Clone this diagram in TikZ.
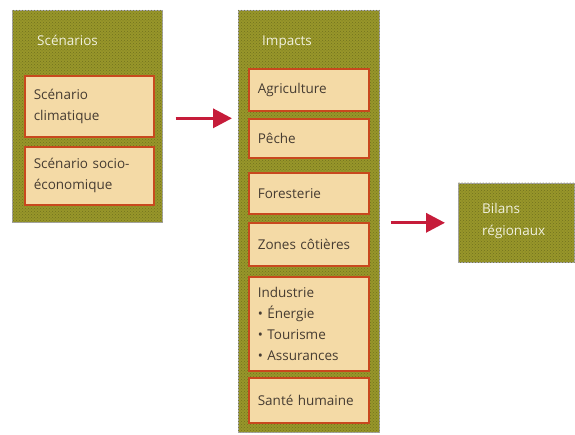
\documentclass[tikz,border=0pt]{standalone}
\usepackage{fontspec}
\setmainfont{Open Sans}
\usetikzlibrary{arrows.meta,patterns}
\definecolor{panelolive}{RGB}{152,150,42}
\definecolor{paneldot}{RGB}{112,114,30}
\definecolor{boxfill}{RGB}{244,218,166}
\definecolor{boxline}{RGB}{200,72,30}
\definecolor{arrowred}{RGB}{198,28,58}
\definecolor{titletext}{RGB}{240,240,220}
\definecolor{bodytext}{RGB}{70,60,50}
\tikzset{
  panel/.style={fill=panelolive, draw=gray!70, line width=0.6pt, anchor=north west, inner sep=0pt},
  paneltex/.style={pattern=crosshatch dots, pattern color=paneldot},
  ptitle/.style={anchor=west, inner sep=0pt, text=titletext, font=\fontsize{13.5}{22}\selectfont, align=left},
  ibox/.style={fill=boxfill, draw=boxline, line width=1.6pt, anchor=north west, inner xsep=9pt, inner ysep=0pt,
    align=left, text=bodytext, font=\fontsize{13.5}{21}\selectfont},
  flow/.style={draw=arrowred, line width=3.4pt, -{Triangle[length=19pt,width=19pt]}}
}
\begin{document}
\begin{tikzpicture}[x=1pt,y=-1pt]
\useasboundingbox (0,0) rectangle (575,435);
% panels
\node[panel, minimum width=150pt, minimum height=212pt] (scen) at (12,10) {};
\node[panel, minimum width=141pt, minimum height=422pt] (imp) at (238,10) {};
\node[panel, minimum width=116pt, minimum height=79pt] (bil) at (458,183) {};
\fill[paneltex] (scen.north west) rectangle (scen.south east);
\fill[paneltex] (imp.north west) rectangle (imp.south east);
\fill[paneltex] (bil.north west) rectangle (bil.south east);
% titles
\node[ptitle] (tscen) at (37,40) {Scénarios};
\node[ptitle] (timp) at (262,42) {Impacts};
\node[ptitle] (tbil) at (482,221) {Bilans\\régionaux};
% left boxes
\node[ibox, text width=111pt, minimum height=61pt] (clim) at (24,75) {Scénario\\climatique};
\node[ibox, text width=111pt, minimum height=58pt] (socio) at (24,146) {Scénario socio-\\économique};
% middle boxes
\node[ibox, text width=102pt, minimum height=42pt] (agri) at (248,68) {Agriculture};
\node[ibox, text width=102pt, minimum height=39pt] (peche) at (248,118) {Pêche};
\node[ibox, text width=102pt, minimum height=41pt] (fore) at (248,172) {Foresterie};
\node[ibox, text width=102pt, minimum height=43pt] (zones) at (248,222) {Zones côtières};
\node[ibox, text width=102pt, minimum height=94pt] (indu) at (248,276) {Industrie\\• Énergie\\• Tourisme\\• Assurances};
\node[ibox, text width=102pt, minimum height=45pt] (sante) at (248,377) {Santé humaine};
% arrows
\draw[flow, shorten <=13pt, shorten >=6pt] ([yshift=-2pt]scen.east) -- ([yshift=-2pt]scen.east -| imp.west);
\draw[flow, shorten <=11pt, shorten >=13pt] (imp.east |- bil.west) -- (bil.west);
\end{tikzpicture}
\end{document}
